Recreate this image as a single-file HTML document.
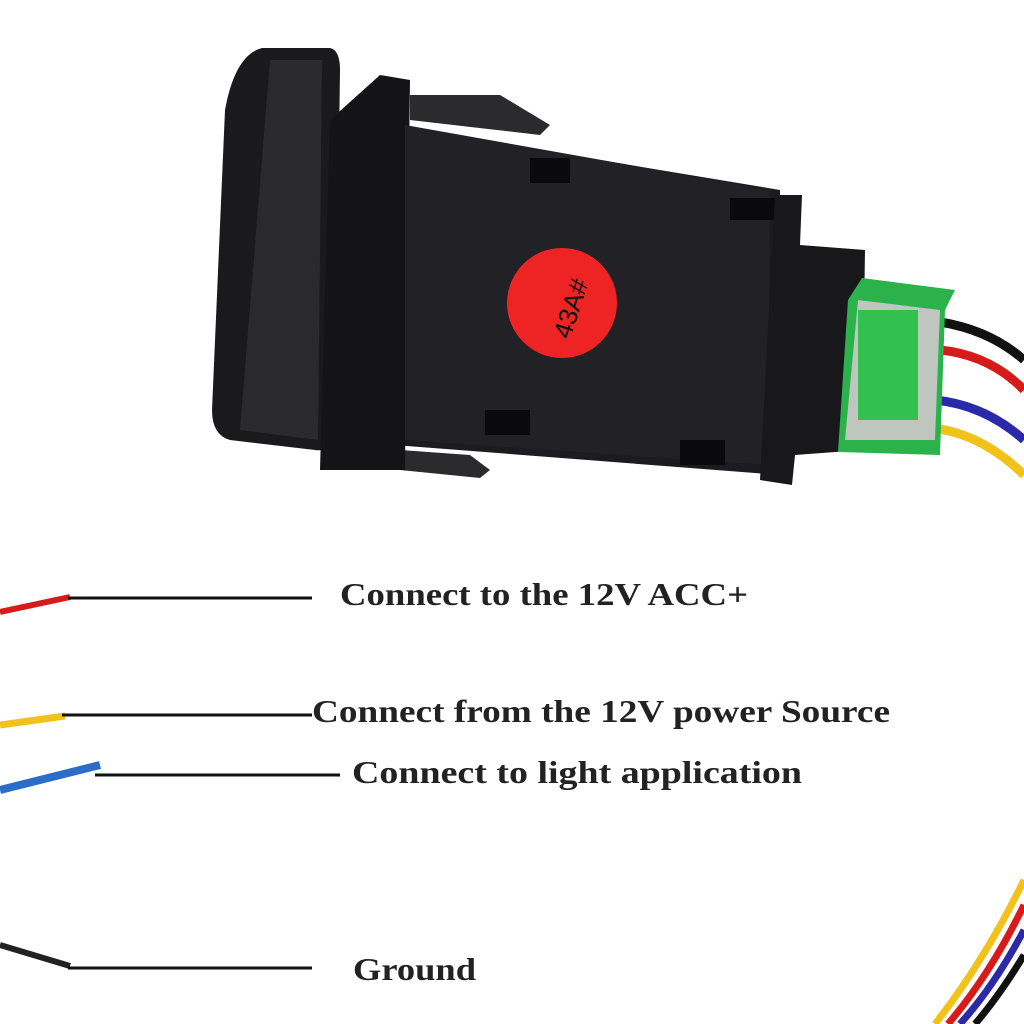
<!DOCTYPE html>
<html><head><meta charset="utf-8"><style>
html,body{margin:0;padding:0;background:#fff;}
svg{display:block}
text{font-family:"Liberation Serif","DejaVu Serif",serif;font-weight:bold;fill:#222;}
</style></head><body>
<svg width="1024" height="1024" viewBox="0 0 1024 1024" xmlns="http://www.w3.org/2000/svg">
<rect width="1024" height="1024" fill="#fff"/>
<path d="M940 322 Q990 330 1024 360" stroke="#111" stroke-width="9" fill="none"/>
<path d="M940 350 Q990 355 1024 390" stroke="#d71a1a" stroke-width="9" fill="none"/>
<path d="M935 400 Q985 405 1024 440" stroke="#2a2aa8" stroke-width="9" fill="none"/>
<path d="M930 428 Q980 432 1024 475" stroke="#f0c21a" stroke-width="9" fill="none"/>
<path d="M262 48 L330 48 Q340 50 340 70 L335 440 Q330 452 315 450 L230 440 Q212 435 212 410 L225 110 Q235 55 262 48 Z" fill="#1a1a1c"/>
<path d="M270 60 L322 60 L318 440 L240 430 Z" fill="#2a2a2e"/>
<path d="M410 95 L500 95 L550 125 L540 135 L410 120 Z" fill="#2b2b2e"/>
<path d="M400 450 L470 455 L490 470 L480 478 L400 470 Z" fill="#2b2b2e"/>
<path d="M330 115 L780 190 L780 475 L330 440 Z" fill="#1c1c20"/>
<path d="M380 75 L410 80 L405 470 L320 470 L330 120 Z" fill="#141416"/>
<path d="M405 125 L770 190 L768 465 L405 440 Z" fill="#212126"/>
<rect x="530" y="158" width="40" height="25" fill="#0a0a0c"/>
<rect x="730" y="198" width="45" height="22" fill="#0a0a0c"/>
<rect x="485" y="410" width="45" height="25" fill="#0a0a0c"/>
<rect x="680" y="440" width="45" height="25" fill="#0a0a0c"/>
<path d="M775 195 L802 195 L800 245 L865 250 L862 450 L795 455 L792 485 L760 480 Z" fill="#18181b"/>
<path d="M862 278 L955 290 L945 310 L940 455 L838 452 L848 300 Z" fill="#2bb24a"/>
<path d="M858 300 L940 310 L935 440 L845 440 Z" fill="#bfc5bf"/>
<rect x="858" y="310" width="60" height="110" fill="#34c04e"/>
<circle cx="562" cy="303" r="55" fill="#ee2424"/>
<text x="0" y="0" transform="translate(570,340) rotate(-72)" style="font-family:'Liberation Sans',sans-serif;font-weight:normal;font-size:26px;fill:#111">43A#</text>
<path d="M0 612 L70 597" stroke="#d71a1a" stroke-width="6"/>
<line x1="68" y1="598" x2="312" y2="598" stroke="#111" stroke-width="3"/>
<path d="M0 725 L65 716" stroke="#f0c21a" stroke-width="7"/>
<line x1="62" y1="715" x2="312" y2="715" stroke="#111" stroke-width="3"/>
<path d="M0 790 L100 765" stroke="#2a6ec8" stroke-width="8"/>
<line x1="95" y1="775" x2="340" y2="775" stroke="#111" stroke-width="3"/>
<path d="M0 945 L70 966" stroke="#222" stroke-width="6"/>
<line x1="68" y1="968" x2="312" y2="968" stroke="#111" stroke-width="3"/>
<path d="M1024 880 Q985 960 935 1024" stroke="#f0c21a" stroke-width="7" fill="none"/>
<path d="M1024 905 Q990 975 948 1024" stroke="#d71a1a" stroke-width="7" fill="none"/>
<path d="M1024 930 Q995 985 960 1024" stroke="#2a2aa8" stroke-width="7" fill="none"/>
<path d="M1024 955 Q1000 995 975 1024" stroke="#111" stroke-width="7" fill="none"/>
<text x="340" y="605" font-size="32" textLength="408" lengthAdjust="spacingAndGlyphs">Connect to the 12V ACC+</text>
<text x="312" y="722" font-size="32" textLength="578" lengthAdjust="spacingAndGlyphs">Connect from the 12V power Source</text>
<text x="352" y="783" font-size="32" textLength="450" lengthAdjust="spacingAndGlyphs">Connect to light application</text>
<text x="353" y="980" font-size="32" textLength="123" lengthAdjust="spacingAndGlyphs">Ground</text>
</svg>
</body></html>
